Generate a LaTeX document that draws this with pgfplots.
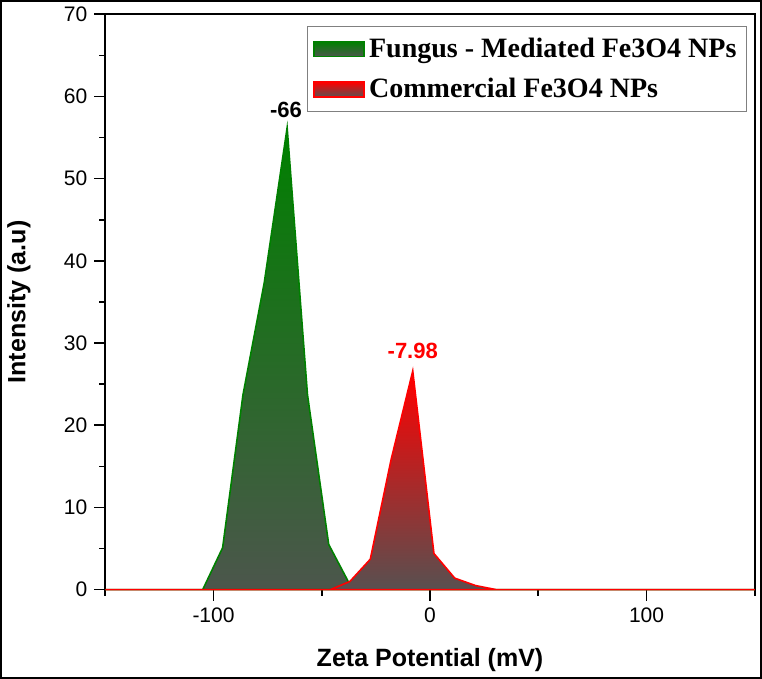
\documentclass[border=0pt]{standalone}
\usepackage{fontspec}
\setmainfont{Liberation Serif}
\setsansfont{Liberation Sans}
\usepackage{pgfplots}
\pgfplotsset{compat=1.18}
\definecolor{ggreen}{RGB}{0,128,0}
\definecolor{ggreenbot}{RGB}{76,86,76}
\definecolor{rred}{RGB}{255,0,0}
\definecolor{rredbot}{RGB}{88,80,80}
\begin{document}
\begin{tikzpicture}
\begin{axis}[
  name=ax,
  scale only axis,
  width=324.5pt, height=287.5pt,
  xmin=-150, xmax=150, ymin=0, ymax=70,
  xtick={-100,0,100},
  minor xtick={-150,-50,50,150},
  ytick={0,10,...,70},
  minor ytick={5,15,...,65},
  tick align=outside,
  xtick pos=bottom, ytick pos=left,
  major tick length=5.5pt, minor tick length=3pt,
  axis line style={line width=0.8pt},
  major tick style={black, line width=0.8pt},
  minor tick style={black, line width=0.8pt},
  /pgf/number format/assume math mode=true,
  ticklabel style={font=\sffamily\fontsize{10.5}{12}\selectfont},
  xlabel={Zeta Potential (mV)},
  ylabel={Intensity (a.u)},
  label style={font=\sffamily\bfseries\fontsize{12.5}{14}\selectfont},
  xlabel style={at={(axis description cs:0.5,-0.123)}, anchor=center},
  ylabel style={at={(axis description cs:-0.133,0.5)}, anchor=center},
  legend style={at={(0.988,0.979)}, anchor=north east, draw=gray, line width=0.5pt,
    font=\rmfamily\bfseries\fontsize{14}{16}\selectfont, row sep=5pt, inner xsep=3pt, inner ysep=3.5pt},
  legend cell align=left,
  clip=false,
]
\addplot[draw=ggreen, line width=0.8pt, top color=ggreen, bottom color=ggreenbot,
  legend image code/.code={\fill[top color=ggreen, bottom color=ggreenbot, draw=ggreen] (0pt,-3.7pt) rectangle (25pt,3.7pt);}]
  coordinates {(-150,0) (-105,0) (-95.8,5.1) (-86.4,23.7) (-76.6,37.3) (-66,56.2) (-56.6,23.7) (-46.8,5.5) (-37.4,0.8) (-28,0) (150,0)} \closedcycle;
\addlegendentry{Fungus - Mediated Fe3O4 NPs}
\addplot[draw=rred, line width=0.8pt, top color=rred, bottom color=rredbot,
  legend image code/.code={\fill[top color=rred, bottom color=rredbot, draw=rred] (0pt,-3.7pt) rectangle (25pt,3.7pt);}]
  coordinates {(-150,0) (-46,0) (-37,1.0) (-27.6,3.7) (-18,15.8) (-7.98,26.6) (1.8,4.4) (11.4,1.4) (21,0.5) (30.6,0) (150,0)} \closedcycle;
\addlegendentry{Commercial Fe3O4 NPs}
\node[font=\sffamily\bfseries\fontsize{11}{13}\selectfont, anchor=south] at (axis cs:-66.5,56.6) {-66};
\node[font=\sffamily\bfseries\fontsize{11}{13}\selectfont, text=rred, anchor=south] at (axis cs:-7.98,27.2) {-7.98};
\end{axis}
\draw[line width=1.2pt] ([shift={(-52pt,-44pt)}]ax.south west) rectangle ([shift={(3pt,6.5pt)}]ax.north east);
\end{tikzpicture}
\end{document}
